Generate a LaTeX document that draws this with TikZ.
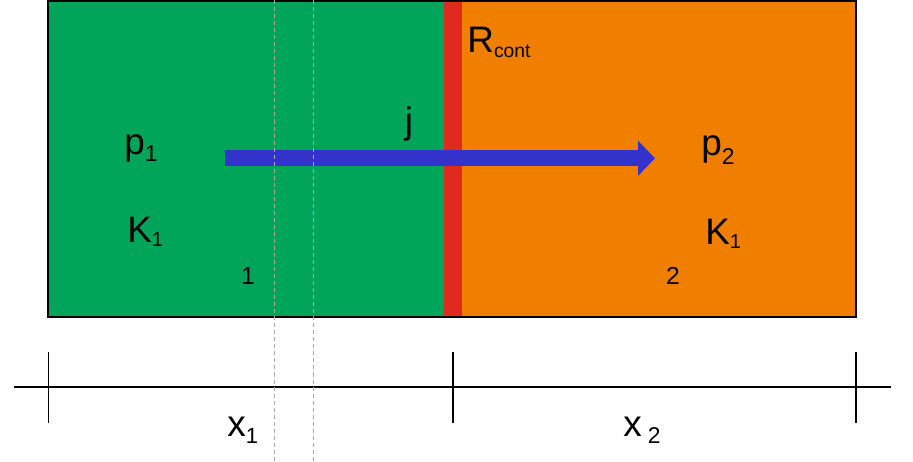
\documentclass[tikz,border=0pt]{standalone}
\usepackage{fontspec}
\setmainfont{Liberation Sans}
\usepackage{tikz}
\usetikzlibrary{arrows.meta,positioning}
\definecolor{zoneA}{HTML}{00A55A}
\definecolor{zoneB}{HTML}{F07F00}
\definecolor{contact}{HTML}{E02A20}
\definecolor{flux}{HTML}{3333CC}
\definecolor{guide}{HTML}{A8A8A8}
\newcommand{\bigtxt}{\fontsize{21}{25}\selectfont}
\newcommand{\subtxt}[3]{\raisebox{-#1}{\fontsize{#2}{#2}\selectfont #3}}
\tikzset{
  lbl/.style={anchor=base west,inner sep=0pt,font=\bigtxt},
  idx/.style={anchor=base,inner sep=0pt,font=\fontsize{14}{16}\selectfont},
  axis/.style={draw=black,line width=1.1pt},
  guideline/.style={draw=guide,line width=0.55pt,dash pattern=on 2.3pt off 1.7pt},
  fluxarrow/.style={draw=flux,line width=9.1pt,-{Triangle[length=9.6pt,width=19.3pt]}},
}
\begin{document}
\begin{tikzpicture}[x=0.02cm,y=-0.02cm]
  \useasboundingbox (0,0) rectangle (913,461);
  \fill[zoneA] (48,1) rectangle (453,317);
  \fill[zoneB] (453,1) rectangle (856,317);
  \fill[contact] (444,2) rectangle (462,317);
  \draw[line width=1.1pt] (48,1) rectangle (856,317);
  \coordinate (j0) at (225,158.3);
  \coordinate (j1) at (655,158.3);
  \draw[fluxarrow] (j0) -- (j1);
  \node[lbl] (p1) at (124,154) {p\subtxt{4.5pt}{13}{1}};
  \node[lbl] (k1) at (127,242) {K\subtxt{2.8pt}{11.5}{1}};
  \node[idx] (n1) at (248,284) {1};
  \node[lbl,anchor=base] (j) at (409,133) {j};
  \node[lbl] (rc) at (467,52) {R\subtxt{3.4pt}{11}{cont}};
  \node[lbl] (p2) at (701,155) {p\subtxt{5.5pt}{13}{2}};
  \node[lbl] (k2) at (705,244) {K\subtxt{2.8pt}{11.5}{1}};
  \node[idx] (n2) at (673,284) {2};
  \coordinate (a0) at (14,386.7);
  \coordinate (a1) at (891,386.7);
  \draw[axis] (a0) -- (a1);
  \foreach \t in {48.5,452.7,856}
    \draw[axis] (\t,352) -- (\t,422.5);
  \node[lbl] (x1) at (227,436) {x\subtxt{4.5pt}{12.5}{1}};
  \node[lbl] (x2) at (623,436) {x\hspace{3.5pt}\subtxt{4.5pt}{13}{2}};
  \foreach \g in {274.3,313.3}
    \draw[guideline] (\g,0) -- (\g,461);
\end{tikzpicture}
\end{document}
